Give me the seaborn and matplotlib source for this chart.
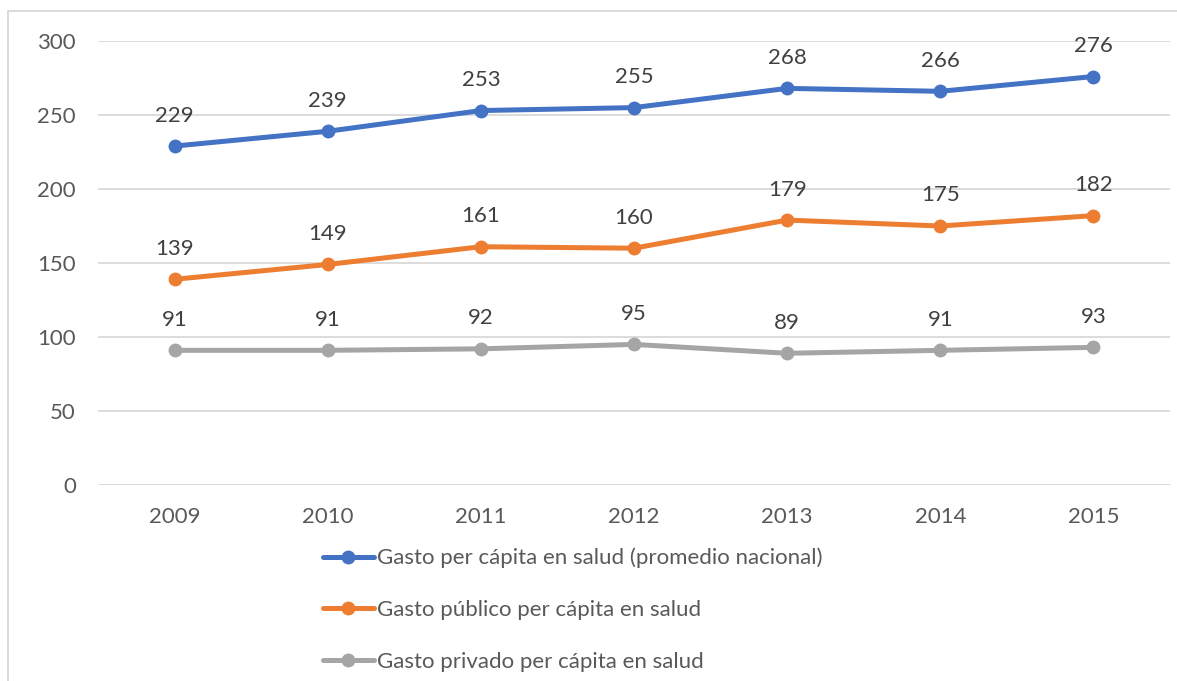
import matplotlib
matplotlib.use("Agg")
import matplotlib.pyplot as plt
import seaborn as sns
import pandas as pd
from matplotlib.patches import Rectangle

years = [2009, 2010, 2011, 2012, 2013, 2014, 2015]
gasto_total = [229, 239, 253, 255, 268, 266, 276]
gasto_publico = [139, 149, 161, 160, 179, 175, 182]
gasto_privado = [91, 91, 92, 95, 89, 91, 93]
series_names = [
    "Gasto per cápita en salud (promedio nacional)",
    "Gasto público per cápita en salud",
    "Gasto privado per cápita en salud",
]
colors = ["#4472C4", "#ED7D31", "#A5A5A5"]
yticks = [0, 50, 100, 150, 200, 250, 300]

sns.set_theme(style="white")
plt.rcParams["font.family"] = ["Lato", "DejaVu Sans"]
text_color = "#595959"

df = pd.DataFrame({
    "year": years * 3,
    "value": gasto_total + gasto_publico + gasto_privado,
    "serie": [series_names[0]] * 7 + [series_names[1]] * 7 + [series_names[2]] * 7,
})

fig = plt.figure(figsize=(11.77, 6.81), dpi=100)
ax = fig.add_axes([98 / 1177, 1 - 485 / 681, (1170 - 98) / 1177, (485 - 41) / 681])

sns.lineplot(data=df, x="year", y="value", hue="serie", hue_order=series_names,
             palette=colors, marker="o", markersize=10, markeredgewidth=0,
             linewidth=3.6, ax=ax, legend=True)

for name, vals in zip(series_names, [gasto_total, gasto_publico, gasto_privado]):
    for x, v in zip(years, vals):
        ax.annotate(str(v), (x, v), xytext=(0, 22), textcoords="offset points",
                    ha="center", va="center", fontsize=16, color="#404040")

ax.set_xlim(2008.5, 2015.5)
ax.set_ylim(0, 300)
ax.set_yticks(yticks)
ax.set_xticks(years)
ax.set_xticklabels([str(y) for y in years])
ax.tick_params(axis="both", labelsize=16, colors=text_color, length=0)
ax.tick_params(axis="y", pad=16)
ax.tick_params(axis="x", pad=16)
ax.grid(axis="y", color="#D9D9D9", linewidth=1.3)
ax.set_axisbelow(True)
for s in ax.spines.values():
    s.set_visible(False)
ax.set_xlabel("")
ax.set_ylabel("")

leg = ax.get_legend()
handles, labels = ax.get_legend_handles_labels()
leg.remove()
fig.legend(handles, labels, loc="upper left", bbox_to_anchor=(314 / 1177, 1 - 539 / 681),
           frameon=False, fontsize=16, labelcolor=text_color, handlelength=2.3,
           handletextpad=0.12, labelspacing=1.42, borderaxespad=0)

# outer chart border
fig.patches.append(Rectangle((8 / 1177, -0.05), 1.2, 1.05 - 11 / 681,
                             transform=fig.transFigure, fill=False,
                             edgecolor="#D9D9D9", linewidth=1.3))

fig.savefig("out.png", dpi=100)
